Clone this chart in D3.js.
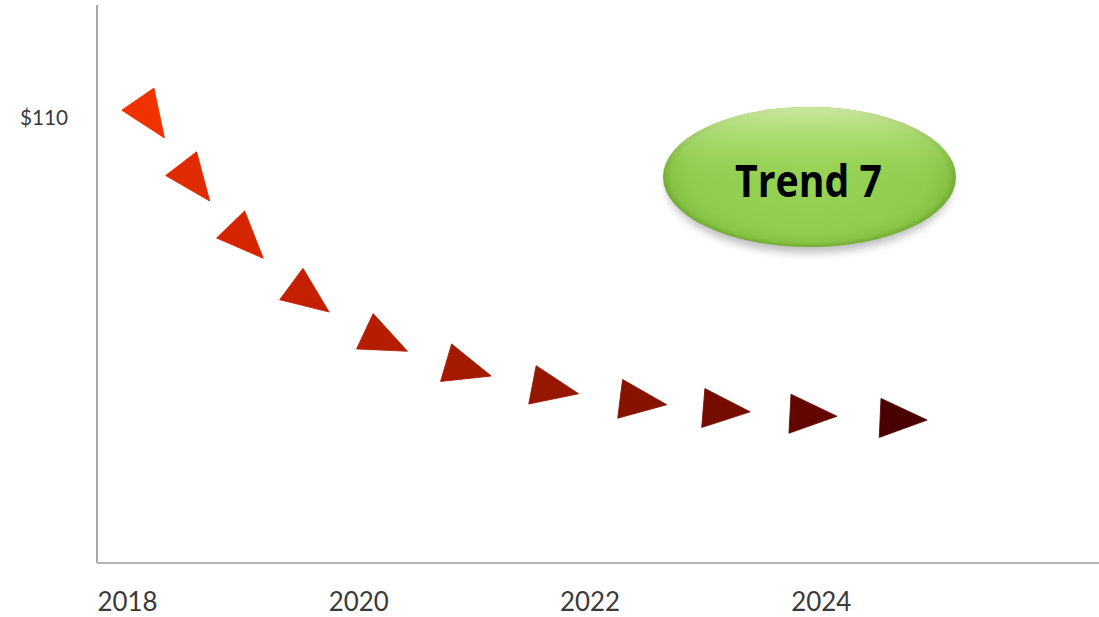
<!DOCTYPE html>
<html>
<head>
<meta charset="utf-8">
<script src="https://cdn.jsdelivr.net/npm/d3@7"></script>
<style>
  html, body { margin: 0; padding: 0; background: #ffffff; }
  svg { display: block; }
</style>
</head>
<body>
<svg id="chart" width="1099" height="617"></svg>
<script>
// ---- data ----
const years = [2018.17, 2018.55, 2018.99, 2019.53, 2020.18, 2020.89, 2021.64, 2022.40, 2023.12, 2023.87, 2024.65];
const prices = [111.2, 95.4, 80.7, 66.5, 55.5, 48.3, 43.2, 40.0, 37.9, 36.6, 35.6];
const markerColors = ["#f03200", "#e02a00", "#d42400", "#c42000", "#b41d00", "#a41a00", "#951700", "#861200", "#760c00", "#640600", "#4a0000"];
const xTickValues = [2018, 2020, 2022, 2024];
const yTickValues = [110];
const badgeLabel = "Trend 7";

// ---- layout ----
const plotLeft = 97, plotRight = 1099, plotTop = 5, plotBottom = 563;

const svg = d3.select("#chart");
const defs = svg.append("defs");

const x = d3.scaleLinear().domain([2017.74, 2017.74 + (plotRight - plotLeft) / 115.6]).range([plotLeft, plotRight]);
const y = d3.scaleLinear().domain([0, 137.6]).range([plotBottom, plotTop]);

// axis lines
svg.append("line").attr("x1", plotLeft).attr("x2", plotLeft).attr("y1", plotTop).attr("y2", plotBottom)
  .attr("stroke", "#a8a8a8").attr("stroke-width", 2);
svg.append("line").attr("x1", plotLeft).attr("x2", plotRight).attr("y1", plotBottom).attr("y2", plotBottom)
  .attr("stroke", "#b4b4b4").attr("stroke-width", 2);

// x tick labels
const xAxis = d3.axisBottom(x).tickValues(xTickValues).tickFormat(d3.format("d")).tickSize(0).tickPadding(0);
const gx = svg.append("g").attr("transform", `translate(0,${plotBottom})`).call(xAxis);
gx.select(".domain").remove();
gx.selectAll("text")
  .attr("y", 48).attr("dy", 0)
  .attr("font-family", "Lato, 'Open Sans', sans-serif")
  .attr("font-size", 27)
  .attr("fill", "#3a3a3a")
  .attr("textLength", 60).attr("lengthAdjust", "spacingAndGlyphs");

// y tick labels
const yAxis = d3.axisLeft(y).tickValues(yTickValues).tickFormat(d => "$" + d).tickSize(0).tickPadding(0);
const gy = svg.append("g").attr("transform", `translate(${plotLeft},0)`).call(yAxis);
gy.select(".domain").remove();
gy.selectAll("text")
  .attr("x", -29).attr("dy", "0.35em")
  .attr("font-family", "Lato, 'Open Sans', sans-serif")
  .attr("font-size", 22)
  .attr("fill", "#3a3a3a")
  .attr("textLength", 48).attr("lengthAdjust", "spacingAndGlyphs");

// triangle markers, oriented along the path
const pts = years.map((yr, i) => ({ x: x(yr), y: y(prices[i]), c: markerColors[i] }));
pts.forEach((p, i) => {
  const a = pts[Math.max(0, i - 1)], b = pts[Math.min(pts.length - 1, i + 1)];
  p.angle = Math.atan2(b.y - a.y, b.x - a.x) * 180 / Math.PI;
});
const h = 47, half = 19.5;
const triPath = `M${(2 * h / 3).toFixed(2)},0 L${(-h / 3).toFixed(2)},${half} L${(-h / 3).toFixed(2)},${-half} Z`;

svg.append("g").selectAll("path").data(pts).join("path")
  .attr("d", triPath)
  .attr("transform", d => `translate(${d.x},${d.y}) rotate(${d.angle})`)
  .attr("fill", d => d.c)
  .attr("stroke", d => d.c)
  .attr("stroke-width", 0.8)
  .attr("stroke-linejoin", "miter");

// ---- badge ----
const shadow = defs.append("filter").attr("id", "shadow").attr("x", "-20%").attr("y", "-20%").attr("width", "140%").attr("height", "160%");
shadow.append("feGaussianBlur").attr("stdDeviation", 4);

const rg = defs.append("radialGradient").attr("id", "green")
  .attr("cx", "50%").attr("cy", "50%").attr("r", "50%");
rg.append("stop").attr("offset", "0%").attr("stop-color", "#97d356");
rg.append("stop").attr("offset", "80%").attr("stop-color", "#90cd4e");
rg.append("stop").attr("offset", "94%").attr("stop-color", "#86c243");
rg.append("stop").attr("offset", "100%").attr("stop-color", "#72aa32");

const hl = defs.append("linearGradient").attr("id", "hl").attr("x1", 0).attr("x2", 0).attr("y1", 0).attr("y2", 1);
hl.append("stop").attr("offset", "0%").attr("stop-color", "#d8f0b0").attr("stop-opacity", 0.85);
hl.append("stop").attr("offset", "30%").attr("stop-color", "#b8e37f").attr("stop-opacity", 0.4);
hl.append("stop").attr("offset", "55%").attr("stop-color", "#92d050").attr("stop-opacity", 0);

const bx = 809.5, by = 177, brx = 146.5, bry = 70;
const badge = svg.append("g");
badge.append("ellipse").attr("cx", bx).attr("cy", by + 6).attr("rx", brx - 3).attr("ry", bry)
  .attr("fill", "#000").attr("opacity", 0.25).attr("filter", "url(#shadow)");
badge.append("ellipse").attr("cx", bx).attr("cy", by).attr("rx", brx).attr("ry", bry).attr("fill", "url(#green)");
badge.append("ellipse").attr("cx", bx).attr("cy", by).attr("rx", brx).attr("ry", bry).attr("fill", "url(#hl)");
badge.append("text").attr("x", bx - 1).attr("y", 197)
  .attr("text-anchor", "middle")
  .attr("font-family", "'Open Sans', 'Noto Sans', sans-serif")
  .attr("font-weight", 700)
  .attr("font-size", 44)
  .attr("fill", "#000")
  .attr("textLength", 147).attr("lengthAdjust", "spacingAndGlyphs")
  .text(badgeLabel);
</script>
</body>
</html>
